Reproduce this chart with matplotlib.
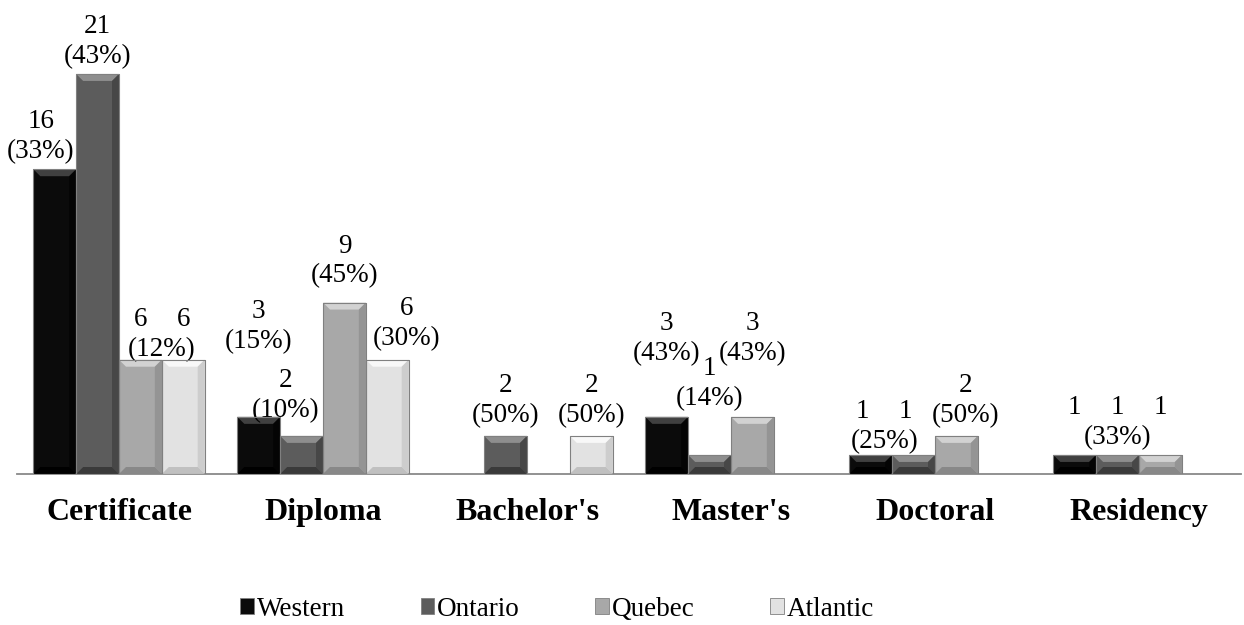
import matplotlib
matplotlib.use("Agg")
import matplotlib.pyplot as plt
import matplotlib.patches as patches
import numpy as np

categories = ["Certificate", "Diploma", "Bachelor's", "Master's", "Doctoral", "Residency"]
regions = ["Western", "Ontario", "Quebec", "Atlantic"]
western = [16, 3, 0, 3, 1, 1]
ontario = [21, 2, 2, 1, 1, 1]
quebec = [6, 9, 0, 3, 2, 1]
atlantic = [6, 6, 2, 0, 0, 0]

colors = ["#0b0b0b", "#5c5c5c", "#a8a8a8", "#e2e2e2"]
top_colors = ["#404040", "#8e8e8e", "#d2d2d2", "#f8f8f8"]
bottom_colors = ["#000000", "#3a3a3a", "#888888", "#c0c0c0"]

# label nudges in pixels (dx, dy) keyed by (category, first region of label run)
nudge = {
    (0, 0): (-14, 0), (0, 2): (0, -7),
    (1, 0): (0, 58), (1, 1): (-16, 8), (1, 2): (0, 9), (1, 3): (19, 4),
    (2, 1): (0, 3), (2, 3): (0, 3),
    (3, 0): (0, 46), (3, 1): (0, 39), (3, 2): (0, 46),
    (4, 0): (-8, -4), (4, 2): (9, 3),
}

plt.rcParams['font.family'] = ['Liberation Serif', 'DejaVu Serif']

W, H = 1244, 625
fig = plt.figure(figsize=(W / 100, H / 100), dpi=100)
ax_l, ax_b, ax_w = 17, 474, 1224
ymax = 24
px_per_y = 19.05
ax = fig.add_axes([ax_l / W, (H - ax_b) / H, ax_w / W, ymax * px_per_y / H])
ax.set_xlim(-0.5, len(categories) - 0.5)
ax.set_ylim(0, ymax)

data = np.array([western, ontario, quebec, atlantic])
totals = data.sum(axis=0)
x = np.arange(len(categories))
bw = 0.21
bev_x = 7 / (ax_w / len(categories))
bev_y = 7 / px_per_y

for r in range(len(regions)):
    xs = x + (r - 1.5) * bw
    ax.bar(xs, data[r], bw, color=colors[r], edgecolor="#7a7a7a", linewidth=0.6, zorder=2)
    for xc, v in zip(xs, data[r]):
        if v <= 0:
            continue
        x0, x1 = xc - bw / 2, xc + bw / 2
        by = min(bev_y, v / 2)
        top = [(x0, v), (x1, v), (x1 - bev_x, v - by), (x0 + bev_x, v - by)]
        bot = [(x0, 0), (x1, 0), (x1 - bev_x, by), (x0 + bev_x, by)]
        right = [(x1, 0), (x1, v), (x1 - bev_x, v - by), (x1 - bev_x, by)]
        ax.add_patch(patches.Polygon(top, closed=True, facecolor=top_colors[r], edgecolor="none", zorder=3))
        ax.add_patch(patches.Polygon(bot, closed=True, facecolor=bottom_colors[r], edgecolor="none", zorder=3))
        ax.add_patch(patches.Polygon(right, closed=True, facecolor=bottom_colors[r], edgecolor="none", alpha=0.6, zorder=3))
        ax.add_patch(patches.Rectangle((x0, 0), bw, v, facecolor="none", edgecolor="#808080", linewidth=0.8, zorder=4))

# data labels: count above each bar, percentage shared by runs of equal bars
lab_fs = 19.5
gap = 5
line = 30
for c in range(len(categories)):
    r = 0
    while r < len(regions):
        v = data[r, c]
        if v == 0:
            r += 1
            continue
        end = r
        while end + 1 < len(regions) and data[end + 1, c] == v:
            end += 1
        run = list(range(r, end + 1))
        xs_run = [x[c] + (k - 1.5) * bw for k in run]
        dx, dy = nudge.get((c, r), (0, 0))
        pct = "(%d%%)" % round(100 * v / totals[c])
        ax.annotate(pct, (np.mean(xs_run), v), xytext=(dx, gap + dy), textcoords="offset pixels",
                    ha="center", va="bottom", fontsize=lab_fs, annotation_clip=False)
        for xr in xs_run:
            ax.annotate(str(v), (xr, v), xytext=(dx, gap + dy + line), textcoords="offset pixels",
                        ha="center", va="bottom", fontsize=lab_fs, annotation_clip=False)
        r = end + 1

for s in ["top", "right", "left"]:
    ax.spines[s].set_visible(False)
ax.spines["bottom"].set_color("#898989")
ax.spines["bottom"].set_linewidth(1.3)
ax.set_yticks([])
ax.set_xticks(x)
ax.set_xticklabels(categories, fontsize=23, fontweight="bold")
ax.tick_params(axis="x", length=0, pad=17)

handles = [patches.Rectangle((0, 0), 1, 1, facecolor=colors[i], edgecolor="#808080", linewidth=0.6)
           for i in range(len(regions))]
fig.legend(handles, regions, loc="center", bbox_to_anchor=(557 / W, 1 - 609 / H), ncol=4,
           frameon=False, fontsize=19.5, handlelength=0.5, handleheight=0.5,
           handletextpad=0.1, columnspacing=2.8, borderpad=0)

fig.savefig("out.png", dpi=100)
